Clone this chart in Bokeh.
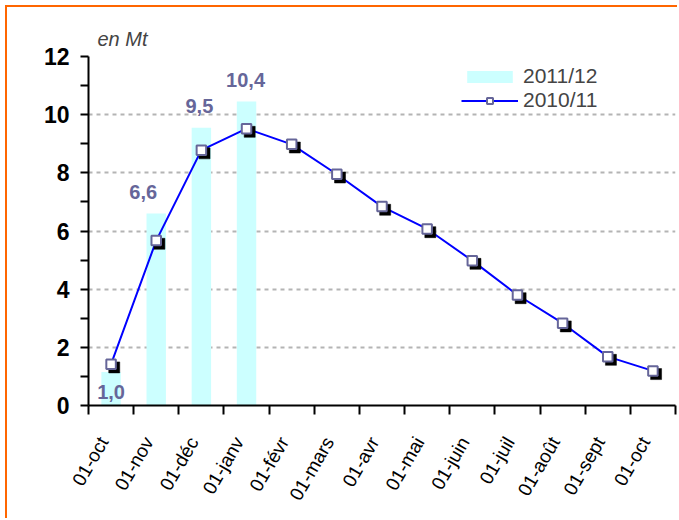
import math
from bokeh.plotting import figure
from bokeh.models import (Range1d, FixedTicker, Legend, LegendItem,
                          ColumnDataSource, CustomJSTickFormatter)
from bokeh.transform import dodge
from bokeh.core.properties import value
from bokeh.embed import file_html
from bokeh.resources import INLINE

# ---- data ----
months = ["01-oct", "01-nov", "01-déc", "01-janv", "01-févr", "01-mars", "01-avr",
          "01-mai", "01-juin", "01-juil", "01-août", "01-sept", "01-oct"]
series_2010_11 = [1.42, 5.67, 8.78, 9.52, 8.98, 7.95, 6.84, 6.07, 4.98, 3.80, 2.83, 1.68, 1.19]
series_2011_12 = [1.15, 6.6, 9.55, 10.45]
labels_2011_12 = ["1,0", "6,6", "9,5", "10,4"]
y_major = [0, 2, 4, 6, 8, 10, 12]
y_minor = [1, 3, 5, 7, 9, 11]

FONT = "Liberation Sans"
SLATE = "#666699"

xs_line = [i + 0.5 for i in range(len(months))]
xs_bar = [i + 0.5 for i in range(len(series_2011_12))]
label_shift = 0.17  # rotated labels end slightly left of the category centre

line_src = ColumnDataSource(dict(x=xs_line, y=series_2010_11))
bar_src = ColumnDataSource(dict(x=xs_bar, top=series_2011_12))

p = figure(width=672, height=513, x_range=Range1d(0, len(months)), y_range=Range1d(0, 12),
           output_backend="svg", toolbar_location=None,
           min_border_left=81, min_border_right=4, min_border_top=49, min_border_bottom=115)
p.margin = (5, 0, 0, 5)
p.styles = {"border-top": "2px solid #FF6600", "border-left": "2px solid #FF6600"}
p.outline_line_color = None
p.background_fill_color = "white"
p.border_fill_color = "white"

# unit label as title
p.title.text = "en Mt"
p.title.align = "left"
p.title.offset = 9
p.title.text_font = FONT
p.title.text_font_size = "20px"
p.title.text_font_style = "italic"
p.title.standoff = 14

bar_r = p.vbar(x="x", top="top", bottom=0, width=0.43, source=bar_src,
               fill_color="#CCFFFF", line_color=None)
line_r = p.line("x", "y", source=line_src, line_color="#0000FF", line_width=2)
p.scatter(x=dodge("x", 0.07), y=dodge("y", -0.11), source=line_src, marker="square",
          size=11, fill_color="black", line_color="black", line_width=0.5)
sq_r = p.scatter("x", "y", source=line_src, marker="square", size=9.5,
                 fill_color="white", line_color=SLATE, line_width=2)

# bar data labels
above = ColumnDataSource(dict(x=xs_bar[1:], y=series_2011_12[1:], label=labels_2011_12[1:],
                              dx=[-13, -2, -1]))
p.text(x="x", y="y", text="label", source=above, x_offset="dx", y_offset=-22,
       text_align="center", text_baseline="middle", text_font=value(FONT),
       text_font_size="20px", text_font_style="bold", text_color=SLATE)
base = ColumnDataSource(dict(x=xs_bar[:1], y=[0], label=labels_2011_12[:1]))
p.text(x="x", y="y", text="label", source=base, y_offset=-14,
       text_align="center", text_baseline="middle", text_font=value(FONT),
       text_font_size="20px", text_font_style="bold", text_color=SLATE)

# y axis
ya = p.yaxis[0]
ya.ticker = FixedTicker(ticks=y_major, minor_ticks=y_minor)
ya.axis_line_width = 2
ya.major_tick_out = 8
ya.major_tick_in = 0
ya.minor_tick_out = 8
ya.minor_tick_in = 0
ya.major_tick_line_width = 2
ya.minor_tick_line_width = 2
ya.minor_tick_line_color = "black"
ya.major_label_text_font = FONT
ya.major_label_text_font_size = "23px"
ya.major_label_text_font_style = "bold"
ya.major_label_text_color = "black"
ya.major_label_standoff = 11

# x axis
xa = p.xaxis[0]
xa.ticker = FixedTicker(ticks=[x - label_shift for x in xs_line],
                        minor_ticks=list(range(len(months) + 1)))
xa.formatter = CustomJSTickFormatter(args=dict(labels=months),
                                     code="return labels[Math.floor(tick)];")
xa.axis_line_width = 2
xa.major_tick_out = 0
xa.major_tick_in = 0
xa.minor_tick_out = 9
xa.minor_tick_in = 0
xa.minor_tick_line_width = 2
xa.minor_tick_line_color = "black"
xa.major_label_orientation = math.radians(60)
xa.major_label_text_font = FONT
xa.major_label_text_font_size = "19px"
xa.major_label_text_color = "black"
xa.major_label_standoff = 24

# grid
p.xgrid.visible = False
p.ygrid.ticker = FixedTicker(ticks=y_major[1:])
p.ygrid.grid_line_color = "#B4B4B4"
p.ygrid.grid_line_width = 2
p.ygrid.grid_line_dash = "4 4"

# legend
legend = Legend(items=[LegendItem(label="2011/12", renderers=[bar_r]),
                       LegendItem(label="2010/11", renderers=[line_r, sq_r])],
                location=(373, 293), label_text_font=FONT, label_text_font_size="21px",
                glyph_width=57, glyph_height=15, label_height=15, spacing=0, padding=6,
                label_standoff=5, label_width=108, background_fill_color="white",
                background_fill_alpha=1, border_line_color=None, margin=0)
p.add_layout(legend)

open("out.html", "w").write(file_html(p, INLINE))
